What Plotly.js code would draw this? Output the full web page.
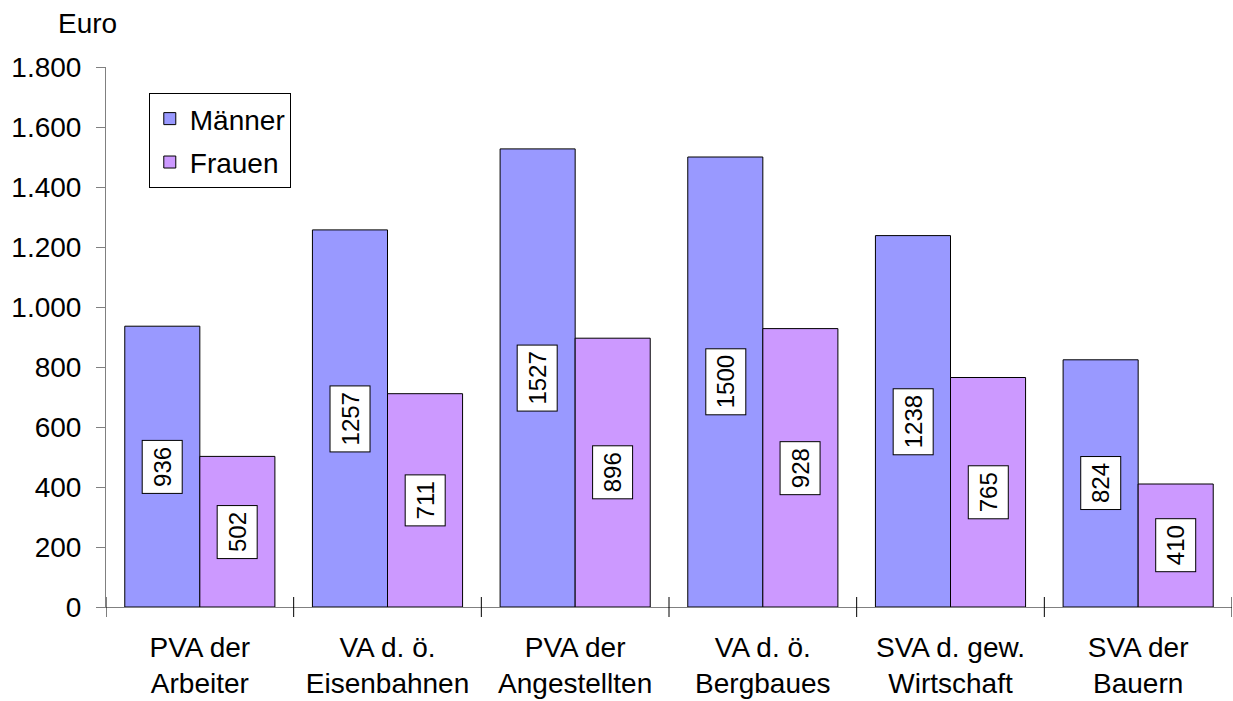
<!DOCTYPE html>
<html>
<head>
<meta charset="utf-8">
<script src="https://cdn.plot.ly/plotly-3.0.1.min.js"></script>
<style>html,body{margin:0;padding:0;background:#fff;}#chart{width:1233px;height:701px;}</style>
</head>
<body>
<div id="chart"></div>
<script>
var categories = ["PVA der<br>Arbeiter", "VA d. ö.<br>Eisenbahnen", "PVA der<br>Angestellten", "VA d. ö.<br>Bergbaues", "SVA d. gew.<br>Wirtschaft", "SVA der<br>Bauern"];
var maenner = [936, 1257, 1527, 1500, 1238, 824];
var frauen = [502, 711, 896, 928, 765, 410];
var seriesNames = ["Männer", "Frauen"];
var yTicks = [0, 200, 400, 600, 800, 1000, 1200, 1400, 1600, 1800];

var FONT = "Liberation Sans, Arial, sans-serif";

var traces = [
  {type: "bar", name: seriesNames[0], x: categories, y: maenner,
   marker: {color: "#9999FF", line: {color: "#000000", width: 1}},
   hoverinfo: "y", legendgroup: "a"},
  {type: "bar", name: seriesNames[1], x: categories, y: frauen,
   marker: {color: "#CC99FF", line: {color: "#000000", width: 1}},
   hoverinfo: "y", legendgroup: "b"}
];

var annotations = [];
var offset = 0.2;
[maenner, frauen].forEach(function(arr, s) {
  arr.forEach(function(v, i) {
    annotations.push({
      x: i + (s === 0 ? -offset : offset), xref: "x",
      y: v / 2, yref: "y",
      text: String(v), textangle: -90, showarrow: false,
      font: {family: FONT, size: 24, color: "#000"},
      bgcolor: "#ffffff", bordercolor: "#000000", borderwidth: 1, borderpad: 6
    });
  });
});
annotations.push({
  x: -0.016, xref: "paper", y: 1.08, yref: "paper",
  text: "Euro", showarrow: false, xanchor: "center", yanchor: "middle",
  font: {family: FONT, size: 28, color: "#000"}
});

// category boundary tick marks crossing the x axis
var shapes = [];
for (var k = 0; k <= categories.length; k++) {
  shapes.push({type: "line", xref: "x", yref: "paper",
               x0: k - 0.5, x1: k - 0.5, y0: -10 / 540, y1: 10 / 540,
               line: {color: "#000", width: 1}});
}

var layout = {
  width: 1233, height: 701,
  margin: {l: 106, r: 1, t: 67, b: 94, pad: 0},
  paper_bgcolor: "#ffffff", plot_bgcolor: "#ffffff",
  separators: ",.",
  font: {family: FONT, size: 28, color: "#000"},
  barmode: "group", bargap: 0.2, bargroupgap: 0,
  showlegend: true,
  legend: {x: 0.038, y: 0.952, xanchor: "left", yanchor: "top",
           bordercolor: "#000", borderwidth: 1, bgcolor: "#fff",
           font: {family: FONT, size: 28, color: "#000"},
           traceorder: "grouped", tracegroupgap: 4},
  xaxis: {type: "category", range: [-0.5, categories.length - 0.5],
          showgrid: false, showline: true, linecolor: "#808080", linewidth: 1,
          ticks: "", ticklabelstandoff: 15, tickfont: {family: FONT, size: 28, color: "#000"},
          zeroline: false, fixedrange: true},
  yaxis: {range: [0, 1800], tickvals: yTicks, tickformat: ",d", showgrid: false, zeroline: false,
          showline: true, linecolor: "#808080", linewidth: 1,
          ticks: "outside", ticklen: 9, tickcolor: "#808080", tickwidth: 1,
          ticklabelstandoff: 9, tickfont: {family: FONT, size: 28, color: "#000"}, fixedrange: true},
  shapes: shapes,
  annotations: annotations
};

Plotly.newPlot("chart", traces, layout, {displayModeBar: false, staticPlot: true});
</script>
</body>
</html>
